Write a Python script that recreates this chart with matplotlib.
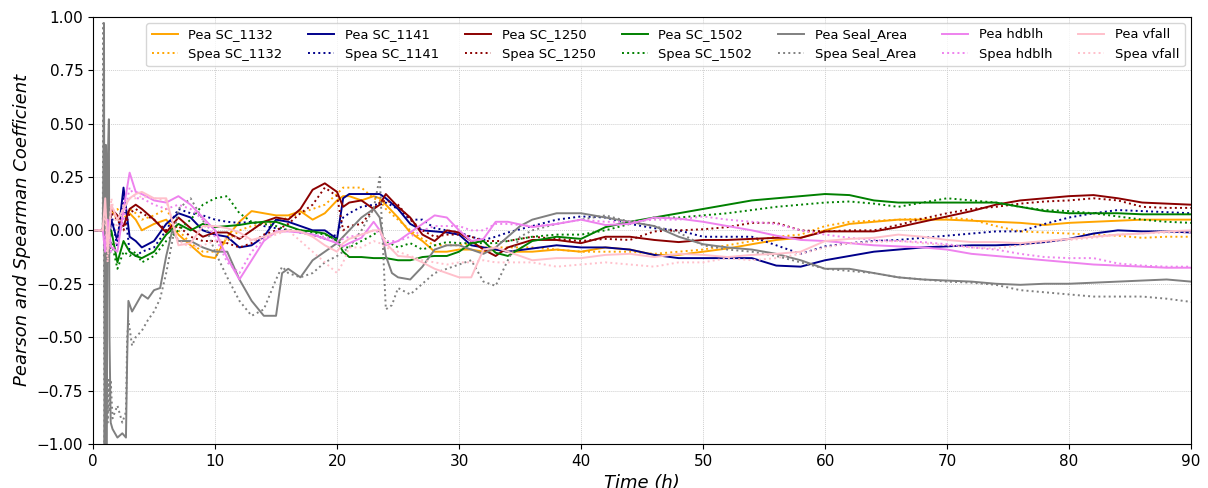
import numpy as np
import matplotlib
matplotlib.use('Agg')
import matplotlib.pyplot as plt

# time grid (h) shared by most series
t = [0, 0.8, 1.0, 1.2, 1.5, 2.0, 2.5, 3.0, 3.5, 4,
     5, 6, 7, 8, 9, 10, 11, 12, 13, 14,
     15, 16, 17, 18, 19, 20, 20.5, 21, 22, 23,
     23.5, 24, 25, 26, 27, 28, 29, 30, 31, 32,
     33, 34, 36, 38, 40, 42, 44, 46, 48, 50,
     52, 54, 56, 58, 60, 62, 64, 66, 68, 70,
     72, 74, 76, 78, 80, 82, 84, 86, 88, 90]

# seal area has its own, denser start
t_seal = [0, 0.8, 0.85, 0.9, 0.95, 1.0, 1.05, 1.1, 1.2, 1.3,
          1.35, 1.45, 1.6, 2.0, 2.4, 2.7, 2.8, 2.9, 3.2, 3.5,
          4, 4.5, 5, 5.5, 6, 6.5, 7, 8, 9, 10,
          11, 12, 13, 14, 15, 15.5, 16, 17, 18, 19,
          20, 21, 22, 23, 23.5, 24, 24.5, 25, 26, 27,
          28, 29, 30, 31, 32, 33, 34, 35, 36, 38,
          40, 42, 44, 46, 48, 50, 52, 54, 56, 58,
          60, 62, 64, 66, 68, 70, 72, 74, 76, 78,
          80, 82, 84, 86, 88, 90]

pea_1132 = [0, 0, 0.08, -0.05, 0.1, 0.05, 0.08, 0.08, 0.05, 0.0,
            0.03, 0.05, -0.02, -0.07, -0.12, -0.13, -0.03, 0.04, 0.09, 0.08,
            0.07, 0.07, 0.09, 0.05, 0.08, 0.14, 0.16, 0.16, 0.14, 0.16,
            0.15, 0.12, 0.06, -0.01, -0.05, -0.1, -0.1, -0.09, -0.09, -0.1,
            -0.09, -0.1, -0.1, -0.09, -0.1, -0.08, -0.09, -0.115, -0.115, -0.1,
            -0.085, -0.065, -0.045, -0.035, 0.0, 0.03, 0.04, 0.05, 0.05, 0.05,
            0.045, 0.04, 0.035, 0.025, 0.035, 0.04, 0.045, 0.05, 0.05, 0.05]
spea_1132 = [0, 0, 0.1, 0.0, 0.08, 0.1, 0.05, 0.1, 0.08, 0.05,
             0.07, 0.1, 0.0, -0.06, -0.1, -0.1, -0.05, 0.0, 0.02, 0.03,
             0.04, 0.06, 0.08, 0.1, 0.12, 0.17, 0.2, 0.2, 0.2, 0.15,
             0.14, 0.1, 0.05, 0.0, -0.04, -0.07, -0.07, -0.07, -0.06, -0.08,
             -0.08, -0.08, -0.08, -0.09, -0.1, -0.1, -0.1, -0.11, -0.1, -0.09,
             -0.07, -0.05, -0.03, -0.02, 0.02, 0.04, 0.045, 0.05, 0.055, 0.06,
             0.05, 0.02, -0.005, -0.01, -0.015, -0.02, -0.025, -0.035, -0.03, -0.03]

pea_1141 = [0, 0, 0.05, -0.1, 0.05, -0.05, 0.2, -0.03, -0.05, -0.08,
            -0.05, 0.03, 0.08, 0.06, 0.0, -0.02, -0.03, -0.08, -0.07, -0.03,
            0.05, 0.04, 0.02, 0.0, 0.0, -0.04, 0.15, 0.17, 0.17, 0.17,
            0.17, 0.15, 0.1, 0.03, 0.0, -0.005, -0.01, -0.02, -0.07, -0.08,
            -0.09, -0.1, -0.085, -0.07, -0.08, -0.08, -0.09, -0.115, -0.13, -0.13,
            -0.13, -0.13, -0.165, -0.17, -0.14, -0.12, -0.1, -0.09, -0.08, -0.075,
            -0.07, -0.07, -0.065, -0.055, -0.04, -0.015, 0.0, -0.005, -0.005, -0.01]
spea_1141 = [0, 0, 0.0, -0.05, 0.08, -0.08, 0.15, -0.1, -0.12, -0.1,
             -0.08, 0.0, 0.1, 0.08, 0.07, 0.05, 0.04, 0.035, 0.04, 0.02,
             0.01, 0.0, -0.01, -0.02, -0.04, -0.02, 0.06, 0.08, 0.11, 0.12,
             0.12, 0.13, 0.1, 0.05, 0.05, 0.01, 0.0, -0.01, -0.03, -0.045,
             -0.03, -0.01, 0.02, 0.05, 0.065, 0.06, 0.03, 0.01, 0.0, -0.03,
             -0.03, -0.03, -0.07, -0.11, -0.075, -0.06, -0.05, -0.045, -0.035, -0.025,
             -0.015, -0.005, -0.005, 0.03, 0.06, 0.08, 0.095, 0.09, 0.085, 0.08]

pea_1250 = [0, 0, 0.26, 0.05, 0.1, 0.07, 0.02, 0.1, 0.12, 0.1,
            0.05, -0.01, 0.06, 0.01, -0.03, -0.01, -0.01, -0.04, 0.0, 0.04,
            0.06, 0.05, 0.1, 0.19, 0.22, 0.18, 0.11, 0.13, 0.14, 0.1,
            0.12, 0.17, 0.11, 0.06, -0.02, -0.05, 0.0, -0.01, -0.05, -0.09,
            -0.12, -0.08, -0.045, -0.045, -0.06, -0.03, -0.03, -0.045, -0.055, -0.045,
            -0.045, -0.04, -0.035, -0.035, -0.005, -0.005, -0.005, 0.015, 0.04, 0.065,
            0.09, 0.12, 0.14, 0.15, 0.16, 0.165, 0.15, 0.13, 0.125, 0.12]
spea_1250 = [0, 0, 0.2, 0.0, 0.08, 0.05, 0.0, 0.08, 0.1, 0.08,
             0.05, 0.0, 0.02, -0.03, -0.05, -0.05, -0.06, -0.08, -0.06, -0.02,
             0.0, 0.03, 0.08, 0.12, 0.2, 0.16, 0.0, 0.02, 0.03, 0.1,
             0.13, 0.14, 0.12, 0.05, 0.0, -0.03, -0.02, -0.02, -0.03, -0.05,
             -0.05, -0.05, -0.03, -0.04, -0.05, -0.04, -0.045, -0.005, 0.0, 0.005,
             0.015, 0.035, 0.035, 0.0, -0.005, 0.0, 0.0, 0.025, 0.055, 0.08,
             0.1, 0.11, 0.125, 0.135, 0.14, 0.15, 0.14, 0.11, 0.105, 0.105]

pea_1502 = [0, 0, 0.1, -0.1, 0.0, -0.15, -0.05, -0.1, -0.12, -0.13,
            -0.1, -0.02, 0.03, 0.0, 0.03, 0.015, 0.02, 0.025, 0.035, 0.04,
            0.04, 0.02, 0.0, -0.005, -0.015, -0.05, -0.1, -0.125, -0.125, -0.13,
            -0.13, -0.13, -0.14, -0.14, -0.125, -0.12, -0.12, -0.1, -0.06, -0.05,
            -0.105, -0.12, -0.05, -0.03, -0.04, 0.015, 0.04, 0.06, 0.08, 0.1,
            0.12, 0.14, 0.15, 0.16, 0.17, 0.165, 0.14, 0.13, 0.13, 0.13,
            0.13, 0.13, 0.11, 0.09, 0.08, 0.08, 0.08, 0.075, 0.075, 0.075]
spea_1502 = [0, 0, 0.05, -0.15, -0.05, -0.18, -0.1, -0.12, -0.1, -0.15,
             -0.12, -0.05, 0.0, 0.05, 0.12, 0.15, 0.16, 0.08, 0.04, 0.03,
             0.02, 0.0, 0.0, -0.01, -0.02, -0.04, -0.08, -0.08, -0.05, -0.02,
             0.0, -0.05, -0.08, -0.06, -0.09, -0.07, -0.055, -0.06, -0.06, -0.06,
             -0.06, -0.05, -0.03, -0.02, -0.02, 0.0, 0.03, 0.06, 0.06, 0.07,
             0.08, 0.095, 0.11, 0.12, 0.13, 0.135, 0.125, 0.11, 0.13, 0.15,
             0.14, 0.13, 0.11, 0.095, 0.09, 0.08, 0.065, 0.05, 0.04, 0.035]

pea_seal = [0, 0, 0.3, 0.97, -1.0, -0.6, 0.4, -1.0, 0.3, 0.52,
            -0.5, -0.9, -0.93, -0.97, -0.95, -0.97, -0.6, -0.33, -0.38, -0.35,
            -0.3, -0.32, -0.28, -0.27, -0.12, 0.0, -0.05, -0.05, -0.08, -0.1,
            -0.1, -0.23, -0.33, -0.4, -0.4, -0.2, -0.18, -0.22, -0.14, -0.1,
            -0.06, 0.0, 0.06, 0.1, 0.06, -0.12, -0.2, -0.22, -0.23, -0.17,
            -0.09, -0.07, -0.07, -0.09, -0.11, -0.08, -0.03, 0.02, 0.05, 0.08,
            0.08, 0.06, 0.04, 0.02, -0.03, -0.065, -0.08, -0.09, -0.11, -0.14,
            -0.18, -0.18, -0.2, -0.22, -0.23, -0.235, -0.24, -0.25, -0.255, -0.25,
            -0.25, -0.245, -0.24, -0.235, -0.23, -0.24]
spea_seal = [0, 0, 0.97, -0.2, -1.0, 0.2, -0.8, -0.5, -0.9, -0.7,
             -0.85, -0.7, -0.88, -0.82, -0.9, -0.85, -0.5, -0.42, -0.54, -0.5,
             -0.47, -0.42, -0.38, -0.32, -0.2, -0.05, 0.1, 0.15, 0.05, -0.1,
             -0.22, -0.33, -0.4, -0.37, -0.23, -0.17, -0.2, -0.22, -0.2, -0.15,
             -0.12, -0.08, 0.0, 0.1, 0.25, -0.37, -0.35, -0.27, -0.3, -0.25,
             -0.2, -0.18, -0.16, -0.14, -0.24, -0.26, -0.14, -0.03, 0.0, 0.03,
             0.05, 0.07, 0.04, 0.02, -0.01, -0.07, -0.09, -0.1, -0.12, -0.15,
             -0.18, -0.19, -0.2, -0.22, -0.23, -0.24, -0.245, -0.255, -0.28, -0.29,
             -0.3, -0.31, -0.31, -0.31, -0.32, -0.335]

pea_hdblh = [0, 0, -0.1, 0.05, -0.08, -0.1, 0.1, 0.27, 0.18, 0.17,
             0.14, 0.13, 0.16, 0.12, 0.06, 0.0, -0.13, -0.23, -0.14, -0.05,
             -0.005, -0.005, -0.01, -0.02, -0.04, -0.06, -0.075, -0.06, -0.035, 0.04,
             0.0, -0.07, -0.05, -0.01, 0.03, 0.07, 0.06, 0.0, -0.05, -0.04,
             0.04, 0.04, 0.015, 0.03, 0.05, 0.025, 0.03, 0.06, 0.055, 0.04,
             0.02, 0.0, -0.025, -0.045, -0.05, -0.06, -0.07, -0.075, -0.08, -0.09,
             -0.11, -0.12, -0.13, -0.14, -0.15, -0.16, -0.165, -0.17, -0.175, -0.175]
spea_hdblh = [0, 0, -0.05, 0.0, -0.1, -0.05, 0.05, 0.2, 0.15, 0.15,
              0.12, 0.1, 0.12, 0.1, 0.05, -0.03, -0.15, -0.2, -0.1, -0.04,
              -0.01, 0.0, -0.01, -0.02, -0.03, -0.05, -0.04, -0.03, -0.02, 0.0,
              -0.01, -0.05, -0.05, -0.03, 0.0, 0.02, 0.02, 0.02, 0.0, 0.0,
              0.03, 0.03, 0.02, 0.03, 0.05, 0.04, 0.04, 0.05, 0.05, 0.065,
              0.05, 0.04, 0.03, 0.0, -0.02, -0.035, -0.045, -0.05, -0.055, -0.065,
              -0.08, -0.09, -0.11, -0.125, -0.13, -0.13, -0.155, -0.165, -0.17, -0.17]

pea_vfall = [0, 0, 0.15, -0.1, 0.12, 0.05, 0.1, 0.15, 0.17, 0.18,
             0.15, 0.15, -0.07, -0.06, 0.02, 0.02, 0.01, -0.01, -0.045, -0.03,
             -0.01, 0.0, -0.005, -0.03, -0.07, -0.1, -0.06, -0.04, -0.02, 0.0,
             0.0, -0.06, -0.12, -0.125, -0.15, -0.18, -0.2, -0.22, -0.22, -0.09,
             -0.08, -0.1, -0.14, -0.13, -0.13, -0.115, -0.11, -0.125, -0.11, -0.115,
             -0.125, -0.115, -0.11, -0.1, -0.05, -0.04, -0.035, -0.02, -0.03, -0.045,
             -0.055, -0.055, -0.06, -0.05, -0.04, -0.03, -0.02, -0.015, -0.005, 0.0]
spea_vfall = [0, 0, 0.1, -0.15, 0.15, 0.0, 0.12, 0.15, 0.15, 0.16,
              0.15, 0.14, -0.05, -0.08, -0.07, -0.05, -0.04, -0.03, -0.05, -0.04,
              -0.02, 0.0, -0.05, -0.1, -0.15, -0.2, -0.15, -0.08, -0.08, -0.05,
              -0.06, -0.08, -0.1, -0.12, -0.14, -0.15, -0.16, -0.15, -0.15, -0.14,
              -0.15, -0.15, -0.15, -0.17, -0.16, -0.15, -0.16, -0.17, -0.15, -0.15,
              -0.13, -0.14, -0.13, -0.11, -0.08, -0.06, -0.055, -0.05, -0.06, -0.07,
              -0.08, -0.085, -0.07, -0.055, -0.045, -0.035, -0.02, -0.015, -0.01, -0.01]

names = ['SC_1132', 'SC_1141', 'SC_1250', 'SC_1502', 'Seal_Area', 'hdblh', 'vfall']
colors = ['orange', 'darkblue', 'darkred', 'green', 'gray', 'violet', 'pink']
pea = [pea_1132, pea_1141, pea_1250, pea_1502, pea_seal, pea_hdblh, pea_vfall]
spea = [spea_1132, spea_1141, spea_1250, spea_1502, spea_seal, spea_hdblh, spea_vfall]

fig = plt.figure(figsize=(12.08, 4.88), dpi=100)
ax = fig.add_axes([0.077, 0.0902, 0.909, 0.8756])

for name, c, p, s in zip(names, colors, pea, spea):
    tt = t_seal if name == 'Seal_Area' else t
    ax.plot(tt, p, color=c, lw=1.4, label='Pea ' + name)
    ax.plot(tt, s, color=c, lw=1.4, ls=':', label='Spea ' + name)

ax.set_xlim(0, 90)
ax.set_ylim(-1, 1)
ax.set_yticks(np.arange(-1, 1.01, 0.25))
ax.tick_params(labelsize=11)
ax.grid(True, color='#d0d0d0', linestyle=(0, (1, 1)), linewidth=0.7)
ax.set_xlabel('Time (h)', fontsize=13, style='italic', labelpad=4)
ax.set_ylabel('Pearson and Spearman Coefficient', fontsize=13, style='italic')
ax.legend(loc='upper right', ncol=7, fontsize=9.4)

fig.savefig('out.png', dpi=100)
